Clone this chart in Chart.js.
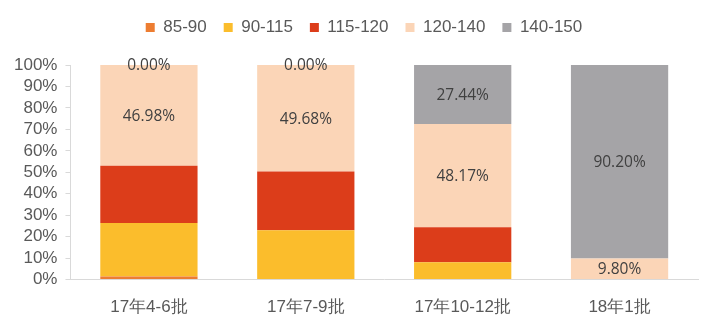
<!DOCTYPE html>
<html>
<head>
<meta charset="utf-8">
<script src="https://cdn.jsdelivr.net/npm/chart.js@4"></script>
<style>
  body { margin: 0; background: #fff; }
  #wrap { width: 720px; height: 333px; }
</style>
</head>
<body>
<div id="wrap"><canvas id="grafico"></canvas></div>
<script>
const categorias = ['17年4-6批', '17年7-9批', '17年10-12批', '18年1批'];
const faixas = ['85-90', '90-115', '115-120', '120-140', '140-150'];
const v85_90   = [1.4, 0.3, 0, 0];
const v90_115  = [25.0, 22.7, 8.1, 0];
const v115_120 = [26.62, 27.32, 16.29, 0];
const v120_140 = [46.98, 49.68, 48.17, 9.80];
const v140_150 = [0.00, 0.00, 27.44, 90.20];
const cores = ['#ED7D31', '#FBBD2C', '#DC3D1A', '#FBD5B7', '#A5A4A7'];
const comRotulo = [3, 4]; // series que mostram o valor

const valores = [v85_90, v90_115, v115_120, v120_140, v140_150];
const fonte = '"Liberation Sans", Arial, sans-serif';

// desenha os rótulos de porcentagem no meio de cada segmento
const rotulos = {
  id: 'rotulos',
  afterDatasetsDraw(chart) {
    const ctx = chart.ctx;
    ctx.save();
    ctx.font = '15.5px "Open Sans", sans-serif';
    ctx.fillStyle = '#404040';
    ctx.textAlign = 'center';
    ctx.textBaseline = 'middle';
    comRotulo.forEach(i => {
      const meta = chart.getDatasetMeta(i);
      meta.data.forEach((bar, j) => {
        const v = chart.data.datasets[i].data[j];
        const p = bar.getProps(['x', 'y', 'base'], true);
        ctx.fillText(v.toFixed(2) + '%', p.x, (p.y + p.base) / 2 + 1);
      });
    });
    ctx.restore();
  }
};

// espaço extra abaixo da legenda e deslocamento para a direita
const ajusteLegenda = {
  id: 'ajusteLegenda',
  beforeInit(chart) {
    const fit = chart.legend.fit;
    chart.legend.fit = function () {
      fit.bind(chart.legend)();
      this.height += 19;
    };
  },
  afterLayout(chart) {
    chart.legend.left += 12;
    chart.legend.right += 12;
  }
};

new Chart(document.getElementById('grafico').getContext('2d'), {
  type: 'bar',
  data: {
    labels: categorias,
    datasets: faixas.map((f, i) => ({
      label: f,
      data: valores[i],
      backgroundColor: cores[i],
      barPercentage: 0.62,
      categoryPercentage: 1
    }))
  },
  options: {
    responsive: true,
    maintainAspectRatio: false,
    animation: false,
    layout: { padding: { left: 6, right: 22, top: 2, bottom: -3 } },
    plugins: {
      legend: {
        position: 'top',
        labels: {
          boxWidth: 9, boxHeight: 9,
          padding: 17,
          color: '#595959',
          font: { family: fonte, size: 17 }
        }
      },
      tooltip: { enabled: false }
    },
    scales: {
      x: {
        stacked: true,
        grid: { drawOnChartArea: false, drawTicks: false },
        border: { color: '#d9d9d9' },
        ticks: {
          color: '#595959', padding: 18,
          font: { family: fonte, size: 17 }
        }
      },
      y: {
        stacked: true,
        min: 0, max: 100,
        grid: { drawOnChartArea: false, drawTicks: true, tickLength: 5, color: '#d9d9d9' },
        border: { color: '#d9d9d9' },
        ticks: {
          stepSize: 10, autoSkip: false,
          color: '#595959', padding: 8,
          font: { family: fonte, size: 17 },
          callback: v => v + '%'
        }
      }
    }
  },
  plugins: [rotulos, ajusteLegenda]
});
</script>
</body>
</html>
